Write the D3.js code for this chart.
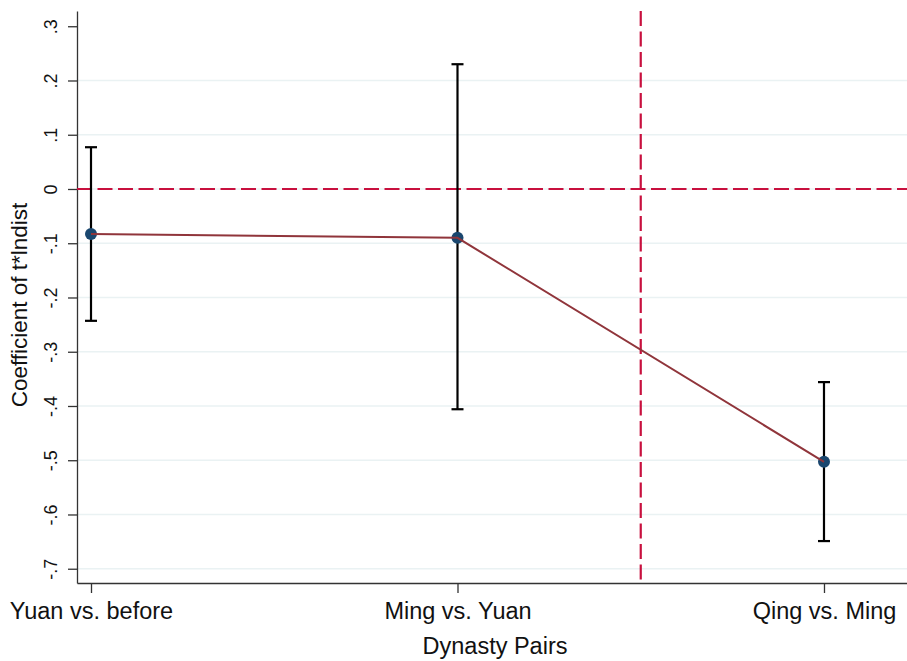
<!DOCTYPE html>
<html>
<head>
<meta charset="utf-8">
<script src="https://cdn.jsdelivr.net/npm/d3@7"></script>
<style>
  body { margin: 0; background: #fff; }
  svg { font-family: Arial, "Liberation Sans", Helvetica, sans-serif; }
</style>
</head>
<body>
<svg width="907" height="661"></svg>
<script>
// data
const categories = ['Yuan vs. before', 'Ming vs. Yuan', 'Qing vs. Ming'];
const positions = [1, 2, 3];
const coef = [-0.083, -0.090, -0.503];
const ciLow = [-0.243, -0.406, -0.649];
const ciHigh = [0.077, 0.230, -0.356];
const yTicks = [-0.7, -0.6, -0.5, -0.4, -0.3, -0.2, -0.1, 0, 0.1, 0.2, 0.3];
const yTickLabels = ['-.7', '-.6', '-.5', '-.4', '-.3', '-.2', '-.1', '0', '.1', '.2', '.3'];
const refY = 0;
const refX = 2.5;

const points = positions.map((p, i) => ({
  x: p, name: categories[i], b: coef[i], lo: ciLow[i], hi: ciHigh[i]
}));

const svg = d3.select('svg');
const mLeft = 77, mTop = 11, mRight = 907, mBottom = 583;
const innerWidth = mRight - mLeft;
const innerHeight = mBottom - mTop;

const x = d3.scaleLinear().domain([0.9618, 3.2265]).range([0, innerWidth]);
const y = d3.scaleLinear().domain([-0.7263, 0.3281]).range([innerHeight, 0]);

const g = svg.append('g').attr('transform', `translate(${mLeft},${mTop})`);

// gridlines (none at the top tick, as in the original)
g.append('g')
  .selectAll('line')
  .data(yTicks.filter(d => d < 0.25))
  .join('line')
  .attr('x1', 0).attr('x2', innerWidth)
  .attr('y1', d => y(d)).attr('y2', d => y(d))
  .attr('stroke', '#eaf2f3').attr('stroke-width', 1.5);

// y axis
const yAxis = d3.axisLeft(y)
  .tickValues(yTicks)
  .tickFormat((d, i) => yTickLabels[i])
  .tickSizeInner(9)
  .tickSizeOuter(0)
  .tickPadding(6);
const yAxisG = g.append('g').call(yAxis);
yAxisG.select('.domain').attr('stroke', '#333').attr('stroke-width', 1.3);
yAxisG.selectAll('.tick line').attr('stroke', '#333').attr('stroke-width', 1.3);
yAxisG.selectAll('.tick text')
  .attr('font-size', 18)
  .attr('fill', '#111')
  .attr('x', 0).attr('dy', 0)
  .attr('transform', 'translate(-20,0) rotate(-90)')
  .style('text-anchor', 'middle');

// x axis
const xAxis = d3.axisBottom(x)
  .tickValues(positions)
  .tickFormat((d, i) => categories[i])
  .tickSizeInner(10)
  .tickSizeOuter(0)
  .tickPadding(9);
const xAxisG = g.append('g').attr('transform', `translate(0,${innerHeight})`).call(xAxis);
xAxisG.select('.domain').attr('stroke', '#333').attr('stroke-width', 1.3);
xAxisG.selectAll('.tick line').attr('stroke', '#333').attr('stroke-width', 1.3);
xAxisG.selectAll('.tick text').attr('font-size', 23.5).attr('fill', '#111');

// axis titles
svg.append('text')
  .attr('transform', `translate(27,${mTop + innerHeight / 2 + 8}) rotate(-90)`)
  .attr('text-anchor', 'middle')
  .attr('font-size', 22.5)
  .attr('fill', '#111')
  .text('Coefficient of t*lndist');

svg.append('text')
  .attr('x', 495).attr('y', 654)
  .attr('text-anchor', 'middle')
  .attr('font-size', 23.5)
  .attr('fill', '#111')
  .text('Dynasty Pairs');

// reference lines
g.append('line')
  .attr('x1', 0).attr('x2', innerWidth)
  .attr('y1', y(refY)).attr('y2', y(refY))
  .attr('stroke', '#c8103e').attr('stroke-width', 2.2)
  .attr('stroke-dasharray', '15,5.5');

g.append('line')
  .attr('x1', x(refX)).attr('x2', x(refX))
  .attr('y1', 0).attr('y2', innerHeight)
  .attr('stroke', '#c8103e').attr('stroke-width', 2.2)
  .attr('stroke-dasharray', '15,5.5');

// error bars
const capW = 6;
const bars = g.append('g').selectAll('g').data(points).join('g');
bars.append('line')
  .attr('x1', d => x(d.x)).attr('x2', d => x(d.x))
  .attr('y1', d => y(d.lo)).attr('y2', d => y(d.hi))
  .attr('stroke', '#000').attr('stroke-width', 2.2);
bars.append('line')
  .attr('x1', d => x(d.x) - capW).attr('x2', d => x(d.x) + capW)
  .attr('y1', d => y(d.hi)).attr('y2', d => y(d.hi))
  .attr('stroke', '#000').attr('stroke-width', 2.2);
bars.append('line')
  .attr('x1', d => x(d.x) - capW).attr('x2', d => x(d.x) + capW)
  .attr('y1', d => y(d.lo)).attr('y2', d => y(d.lo))
  .attr('stroke', '#000').attr('stroke-width', 2.2);

// markers
g.append('g')
  .selectAll('circle')
  .data(points)
  .join('circle')
  .attr('cx', d => x(d.x))
  .attr('cy', d => y(d.b))
  .attr('r', 6)
  .attr('fill', '#1a476f');

// connecting line, drawn over the markers as in the original
const line = d3.line().x(d => x(d.x)).y(d => y(d.b));
g.append('path')
  .datum(points)
  .attr('d', line)
  .attr('fill', 'none')
  .attr('stroke', '#90353b')
  .attr('stroke-width', 2);
</script>
</body>
</html>
